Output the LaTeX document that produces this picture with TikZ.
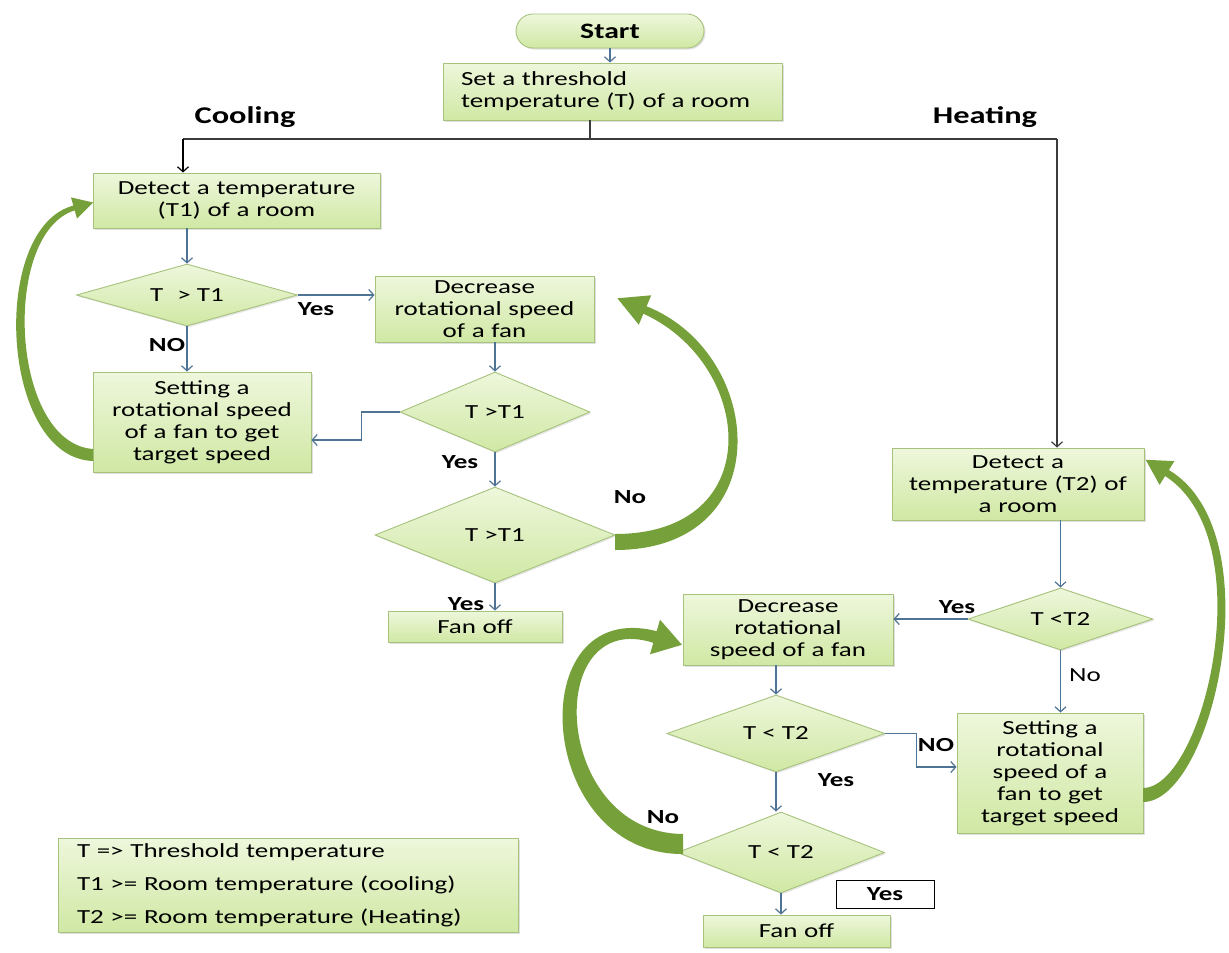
\documentclass[tikz,border=0pt]{standalone}
\usepackage{fontspec}
\setmainfont{Carlito}[FakeStretch=1.35]
\usetikzlibrary{arrows.meta,shapes.geometric,shadows}
\definecolor{boxtop}{HTML}{EEF7DC}
\definecolor{boxbot}{HTML}{D0E8A4}
\definecolor{boxline}{HTML}{A6C27C}
\definecolor{connblue}{HTML}{4F7394}
\definecolor{ggreen}{HTML}{76A03A}
\definecolor{topline}{HTML}{3C3C3C}
\begin{document}
\begin{tikzpicture}[x=1pt,y=-1pt,
  txt/.style={font=\fontsize{20}{22}\selectfont},
  box/.style={txt, draw=boxline, line width=0.9pt, top color=boxtop, bottom color=boxbot,
    drop shadow={shadow xshift=1.5pt,shadow yshift=-1.5pt,opacity=0.25},
    inner xsep=4pt, inner ysep=0pt, align=center},
  dia/.style={txt, diamond, draw=boxline, line width=0.9pt, top color=boxtop, bottom color=boxbot,
    drop shadow={shadow xshift=1.5pt,shadow yshift=-1.5pt,opacity=0.2}, inner sep=0pt},
  flow/.style={draw=connblue, line width=1.2pt, -{Straight Barb[length=5pt,width=11pt,line width=1.2pt]}},
  lab/.style={font=\fontsize{20}{22}\selectfont\bfseries},
  big/.style={font=\fontsize{24}{26}\selectfont\bfseries},
]
\useasboundingbox (0,0) rectangle (1229,953);

% ---------- top ----------
\node[box, rounded corners=17pt, minimum width=188pt, minimum height=34pt,
      font=\fontsize{22}{24}\selectfont\bfseries] (start) at (610,31) {Start};
\node[box, align=left, text width=303pt, inner xsep=18pt, minimum height=57pt] (setT) at (612.5,91.5)
  {Set a threshold\\temperature (T) of a room};
\node[big] (cool) at (245,117) {Cooling};
\node[big] (heat) at (985,117) {Heating};

\coordinate (jc) at (590,139);
\coordinate (jL) at (183,139);
\coordinate (jR) at (1057,139);

% ---------- cooling ----------
\node[box, minimum width=287pt, text width=279pt, minimum height=55pt] (d1) at (236.5,200.5)
  {Detect a temperature\\(T1) of a room};
\node[dia, minimum width=221pt, minimum height=62pt, aspect=3.5] (q1) at (187,295) {T\hspace{14pt}> T1};
\node[box, text width=211pt, minimum height=66pt] (dec1) at (484.5,309)
  {Decrease\\rotational speed\\of a fan};
\node[box, text width=210pt, minimum height=100pt] (set1) at (202,422)
  {Setting a\\rotational speed\\of a fan to get\\target speed};
\node[dia, minimum width=190pt, minimum height=80pt, aspect=2.4] (q2) at (495,412) {T >T1};
\node[dia, minimum width=240pt, minimum height=96pt, aspect=2.5] (q3) at (495,535) {T >T1};
\node[box, text width=166pt, minimum height=31pt] (off1) at (475,626.5) {Fan off};

\node[lab] (yes1) at (316,309) {Yes};
\node[lab] (no1) at (167,345) {NO};
\node[lab] (yes2) at (460,462) {Yes};
\node[lab] (yes3) at (466,604) {Yes};
\node[lab] (no2) at (630,497) {No};

% ---------- heating ----------
\node[box, text width=244pt, minimum height=72pt] (d2) at (1018,484)
  {Detect a\\temperature (T2) of\\a room};
\node[dia, minimum width=185pt, minimum height=62pt, aspect=3] (q4) at (1060.5,619) {T <T2};
\node[box, text width=202pt, minimum height=71pt] (dec2) at (788,629.5)
  {Decrease\\rotational\\speed of a fan};
\node[box, text width=178pt, minimum height=120pt] (set2) at (1050,773)
  {Setting a\\rotational\\speed of a\\fan to get\\target speed};
\node[dia, minimum width=218pt, minimum height=77pt, aspect=2.8] (q5) at (776,733.5) {T < T2};
\node[dia, minimum width=207pt, minimum height=81pt, aspect=2.6] (q6) at (781,852.5) {T < T2};
\node[box, text width=179pt, minimum height=32pt] (off2) at (796.5,931) {Fan off};
\node[lab, draw=black, line width=1pt, fill=white, minimum width=98pt, minimum height=28pt, inner sep=0pt]
  (yesbox) at (885,894) {Yes};

\node[lab] (yes4) at (957,607) {Yes};
\node[txt] (no3) at (1085,675) {No};
\node[lab] (no4) at (936,745) {NO};
\node[lab] (yes5) at (836,780) {Yes};
\node[lab] (no5) at (663,817) {No};

% ---------- legend ----------
\node[box, align=left, text width=422pt, inner xsep=19pt, minimum height=94pt,
      font=\fontsize{20}{33}\selectfont] (legend) at (288,885)
  {T => Threshold temperature\\T1 >= Room temperature (cooling)\\T2 >= Room temperature (Heating)};

% ---------- connectors ----------
\draw[flow] (start.south) -- (start.south |- setT.north);
\draw[topline, line width=1.2pt] (jc |- setT.south) -- (jc);
\draw[topline, line width=1.2pt] (jL) -- (jR);
\draw[flow, draw=black] (jL) -- (jL |- d1.north);
\draw[flow, draw=topline] (jR) -- (jR |- d2.north);

\draw[flow] (q1.north |- d1.south) -- (q1.north);
\draw[flow] (q1.east) -- (q1.east -| dec1.west);
\draw[flow] (q1.south) -- (q1.south |- set1.north);
\draw[flow] (q2.north |- dec1.south) -- (q2.north);
\draw[flow] (q2.west) -- ++(-38,0) |- ([yshift=-18pt]set1.east);
\draw[flow] (q2.south) -- (q3.north);
\draw[flow] (q3.south) -- (q3.south |- off1.north);

\draw[flow] (q4.north |- d2.south) -- (q4.north);
\draw[flow] (q4.west) -- (q4.west -| dec2.east);
\draw[flow] (q4.south) -- (q4.south |- set2.north);
\draw[flow] (q5.north |- dec2.south) -- (q5.north);
\draw[flow] (q5.east) -- ++(31,0) |- ([yshift=6pt]set2.west);
\draw[flow] (q5.south) -- (q5.south |- q6.north);
\draw[flow] (q6.south) -- (q6.south |- off2.north);

% ---------- green loop arrows ----------
% cooling left: set1 -> d1
\fill[ggreen] (93,461) .. controls (0,458) and (-11,228) .. (73.3,205.6) -- (71,197.4) -- (93.2,202.5)
  -- (77,218.6) -- (74.7,210.4) .. controls (1,233) and (10,443) .. (93,449) -- cycle;
% cooling right: q3 -> dec1
\fill[ggreen] (615,550) .. controls (780,550) and (766,354) .. (646.6,306.3) -- (651.2,295.3) -- (617.4,298.3)
  -- (638.8,324.7) -- (643.4,313.7) .. controls (754,364) and (769,534) .. (615,534) -- cycle;
% heating left: q6 -> dec2
\fill[ggreen] (683,854) .. controls (535,855) and (520,596) .. (656.7,631.2) -- (660,619.7) -- (681.9,644.8)
  -- (650,654.3) -- (653.3,642.8) .. controls (542,607) and (552,833) .. (683,834) -- cycle;
% heating right: set2 -> d2
\fill[ggreen] (1143,802) .. controls (1213,802) and (1274,533) .. (1168.9,470) -- (1174.4,461.1) -- (1145.7,459.8)
  -- (1159.6,484.9) -- (1165.1,476) .. controls (1264,540) and (1203,788) .. (1143,788) -- cycle;
\end{tikzpicture}
\end{document}
